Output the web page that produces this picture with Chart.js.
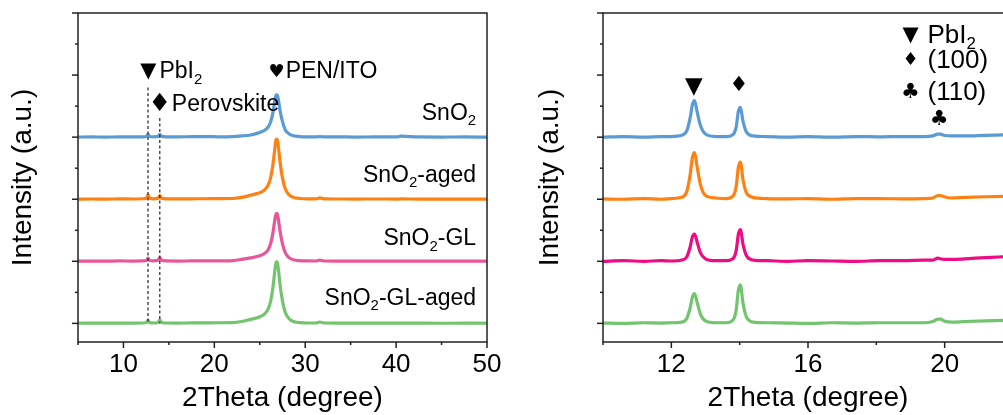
<!DOCTYPE html>
<html>
<head>
<meta charset="utf-8">
<script src="https://cdn.jsdelivr.net/npm/chart.js@4.4.1/dist/chart.umd.min.js"></script>
<style>
  html, body { margin: 0; padding: 0; background: #fff; overflow: hidden; }
  #wrap { position: relative; width: 1003px; height: 415px; overflow: hidden; }
  canvas { position: absolute; top: 0; }
  #left { left: 0; }
  #right { left: 505px; }
</style>
</head>
<body>
<div id="wrap">
  <canvas id="left" width="505" height="415"></canvas>
  <canvas id="right" width="530" height="415"></canvas>
</div>
<script>
// --- data, intensities in units of the trace spacing ---
const seriesNames = [
  [['SnO', 0], ['2', 1]],
  [['SnO', 0], ['2', 1], ['-aged', 0]],
  [['SnO', 0], ['2', 1], ['-GL', 0]],
  [['SnO', 0], ['2', 1], ['-GL-aged', 0]],
];
const offsets = [3, 2, 1, 0];
const labelY = [3.38, 2.38, 1.36, 0.4];

const leftX = [5, 6.5, 8, 9.5, 11, 12.2, 12.5, 12.7, 12.9, 13.3, 13.8, 14.0, 14.2, 14.7, 16, 17.5, 19, 20.5, 22, 23,
  24, 24.8, 25.4, 25.9, 26.2, 26.45, 26.65, 26.8, 26.92, 27.05, 27.25, 27.5, 27.8, 28.2, 28.7, 29.4, 30.3, 31.2, 31.6,
  32.1, 33.5, 35.5, 37.5, 40.2, 40.5, 42.5, 45, 47.5, 50];
const leftSnO2 = [0, 0.005, 0, 0.005, 0.003, 0.005, 0.01, 0.045, 0.01, 0.005, 0.012, 0.045, 0.012, 0.005, 0.005, 0.008,
  0.01, 0.006, 0.01, 0.02, 0.035, 0.065, 0.1, 0.16, 0.25, 0.4, 0.58, 0.68, 0.68, 0.6, 0.41, 0.25, 0.12, 0.055, 0.022,
  0.01, 0.005, 0.004, 0.01, 0.003, 0.004, 0.002, 0.003, 0.004, 0.015, 0.003, 0.002, 0.003, 0];
const leftAged = [0.002, 0.004, 0.002, 0.005, 0.004, 0.008, 0.015, 0.07, 0.015, 0.006, 0.015, 0.06, 0.015, 0.006, 0.005,
  0.007, 0.008, 0.01, 0.012, 0.03, 0.065, 0.095, 0.135, 0.22, 0.35, 0.56, 0.81, 0.96, 0.97, 0.84, 0.58, 0.34, 0.17, 0.075,
  0.03, 0.012, 0.006, 0.006, 0.022, 0.006, 0.004, 0.003, 0.004, 0.003, 0.005, 0.003, 0.002, 0.003, 0.002];
const leftGL = [0.003, 0.004, 0.002, 0.006, 0.004, 0.006, 0.012, 0.05, 0.012, 0.006, 0.015, 0.06, 0.015, 0.006, 0.004,
  0.006, 0.008, 0.007, 0.012, 0.03, 0.055, 0.08, 0.115, 0.18, 0.29, 0.46, 0.66, 0.77, 0.77, 0.67, 0.47, 0.28, 0.14,
  0.06, 0.025, 0.01, 0.006, 0.005, 0.02, 0.005, 0.004, 0.003, 0.004, 0.003, 0.004, 0.003, 0.002, 0.003, 0.002];
const leftGLAged = [0.002, 0.004, 0.003, 0.005, 0.004, 0.006, 0.012, 0.05, 0.012, 0.006, 0.015, 0.055, 0.015, 0.006,
  0.005, 0.007, 0.008, 0.01, 0.012, 0.03, 0.065, 0.095, 0.137, 0.225, 0.36, 0.58, 0.84, 0.99, 0.99, 0.87, 0.6, 0.36, 0.18,
  0.08, 0.03, 0.012, 0.006, 0.006, 0.022, 0.006, 0.004, 0.003, 0.004, 0.003, 0.004, 0.003, 0.002, 0.003, 0.002];

const rightX = [10, 10.6, 11.2, 11.7, 12.0, 12.3, 12.45, 12.55, 12.62, 12.68, 12.75, 12.85, 13.0, 13.3, 13.6, 13.8,
  13.9, 13.96, 14.02, 14.1, 14.2, 14.4, 14.8, 15.4, 16.0, 16.7, 17.4, 18.1, 18.8, 19.4, 19.65, 19.8, 19.88, 19.98, 20.2,
  20.6, 21.2, 22];
const rightSnO2 = [0, 0.01, 0, 0.01, 0.01, 0.03, 0.1, 0.31, 0.53, 0.59, 0.42, 0.19, 0.05, 0.01, 0.01, 0.04, 0.17, 0.41,
  0.48, 0.25, 0.08, 0.02, 0.01, 0, 0.01, 0, 0.01, 0.005, 0.01, 0.01, 0.02, 0.05, 0.05, 0.03, 0.02, 0.02, 0.03, 0.04];
const rightAged = [0.005, 0, 0.01, 0, 0.01, 0.03, 0.12, 0.39, 0.68, 0.75, 0.54, 0.24, 0.06, 0.02, 0.01, 0.05, 0.21, 0.51,
  0.6, 0.31, 0.1, 0.03, 0.01, 0.005, 0.01, 0, 0.01, 0.01, 0.005, 0.01, 0.02, 0.06, 0.06, 0.04, 0.02, 0.03, 0.04, 0.05];
const rightGL = [0, 0.01, 0, 0.01, 0.005, 0.02, 0.07, 0.23, 0.4, 0.44, 0.32, 0.14, 0.04, 0.01, 0.01, 0.04, 0.18, 0.43,
  0.51, 0.27, 0.09, 0.02, 0.01, 0, 0.01, 0.005, 0, 0.01, 0.01, 0.02, 0.02, 0.05, 0.04, 0.03, 0.03, 0.04, 0.06, 0.08];
const rightGLAged = [0.005, 0, 0.01, 0.005, 0.01, 0.02, 0.08, 0.25, 0.43, 0.48, 0.35, 0.15, 0.04, 0.01, 0.01, 0.05, 0.22,
  0.53, 0.62, 0.32, 0.1, 0.02, 0.01, 0.005, 0, 0.01, 0.005, 0.01, 0.01, 0.01, 0.03, 0.07, 0.07, 0.04, 0.02, 0.03, 0.04,
  0.05];

const leftXMajor = [10, 20, 30, 40, 50];
const leftXMinor = [5, 15, 25, 35, 45];
const rightXMajor = [12, 16, 20];
const rightXMinor = [10, 14, 18, 22];
const yMajor = [0, 1, 2, 3, 4, 5];
const yMinor = [0.5, 1.5, 2.5, 3.5, 4.5];

// annotations (anchored in data coordinates)
const leftNotes = [
  { sym: '▼', symSize: 21, x: 12.75, y: 4.05, gap: 11, parts: [['PbI', 0], ['2', 1]] },
  { sym: '♦', symSize: 25, x: 14.0, y: 3.52, gap: 12, parts: [['Perovskite', 0]] },
  { sym: '♥', symSize: 18, x: 26.86, y: 4.05, gap: 9, parts: [['PEN/ITO', 0]] },
];
const leftGuides = [{ x: 12.7, top: 3.8 }, { x: 14.0, top: 3.31 }];
const rightNotes = [
  { sym: '▼', symSize: 23, x: 12.66, y: 3.8 },
  { sym: '♦', symSize: 21, x: 13.98, y: 3.83 },
  { sym: '♣', symSize: 21, x: 19.84, y: 3.28 },
  { sym: '▼', symSize: 21, x: 19.0, y: 4.64, gap: 17, parts: [['PbI', 0], ['2', 1]] },
  { sym: '♦', symSize: 18, x: 19.0, y: 4.23, gap: 17, parts: [['(100)', 0]] },
  { sym: '♣', symSize: 21, x: 19.0, y: 3.72, gap: 17, parts: [['(110)', 0]] },
];

const leftColors = ['#5B9BD5', '#FF8112', '#E8579A', '#72C46E'];
const rightColors = ['#5B9BD5', '#FF8112', '#EC0C84', '#72C46E'];

const FONT = '"Liberation Sans", Arial, sans-serif';
const SYM_FONT = '"DejaVu Sans", sans-serif';

function drawParts(ctx, parts, x, y, size, align) {
  const sub = size * 0.65;
  let w = 0;
  parts.forEach(([t, s]) => { ctx.font = (s ? sub : size) + 'px ' + FONT; w += ctx.measureText(t).width; });
  let cx = align === 'right' ? x - w : x;
  ctx.textAlign = 'left';
  ctx.textBaseline = 'middle';
  parts.forEach(([t, s]) => {
    ctx.font = (s ? sub : size) + 'px ' + FONT;
    ctx.fillText(t, cx, s ? y + size * 0.33 : y);
    cx += ctx.measureText(t).width;
  });
}

function makeDecor(cfg) {
  return {
    id: 'decor',
    afterDraw(chart) {
      const { ctx, chartArea: a, scales: { x, y } } = chart;
      ctx.save();
      ctx.strokeStyle = '#222';
      ctx.fillStyle = '#000';
      ctx.lineWidth = 1.5;
      ctx.strokeRect(a.left, a.top, a.right - a.left, a.bottom - a.top);
      const tick = (list, len, horiz) => list.forEach((v) => {
        ctx.beginPath();
        if (horiz) { const p = x.getPixelForValue(v); ctx.moveTo(p, a.bottom); ctx.lineTo(p, a.bottom + len); }
        else { const p = y.getPixelForValue(v); ctx.moveTo(a.left, p); ctx.lineTo(a.left - len, p); }
        ctx.stroke();
      });
      tick(cfg.xMajor, 6, true); tick(cfg.xMinor, 3, true);
      tick(yMajor, 6, false); tick(yMinor, 3, false);

      (cfg.guides || []).forEach((g) => {
        const p = x.getPixelForValue(g.x);
        ctx.save();
        ctx.lineWidth = 1.2;
        ctx.setLineDash([3, 2.5]);
        ctx.beginPath();
        ctx.moveTo(p, y.getPixelForValue(g.top));
        ctx.lineTo(p, y.getPixelForValue(0));
        ctx.stroke();
        ctx.restore();
      });

      cfg.notes.forEach((n) => {
        const px = x.getPixelForValue(n.x), py = y.getPixelForValue(n.y);
        ctx.font = n.symSize + 'px ' + SYM_FONT;
        ctx.textAlign = 'center';
        ctx.textBaseline = 'middle';
        ctx.fillText(n.sym, px, py);
        if (n.parts) drawParts(ctx, n.parts, px + n.gap, py, cfg.noteSize, 'left');
      });

      (cfg.labels || []).forEach((parts, i) => {
        drawParts(ctx, parts, x.getPixelForValue(cfg.labelX), y.getPixelForValue(labelY[i]), 23, 'right');
      });
      ctx.restore();
    },
  };
}

function buildChart(id, xs, seriesList, colors, xr, xTicks, yAxisWidth, yTitlePad, padRight, decorCfg) {
  return new Chart(document.getElementById(id), {
    type: 'line',
    data: {
      datasets: seriesList.map((vals, i) => ({
        data: xs.map((xv, j) => ({ x: xv, y: vals[j] + offsets[i] })),
        borderColor: colors[i],
        borderWidth: 3.2,
        pointRadius: 0,
        cubicInterpolationMode: 'monotone',
        borderJoinStyle: 'round',
        fill: false,
      })),
    },
    options: {
      responsive: false,
      animation: false,
      events: [],
      layout: { padding: { left: 0, right: padRight, top: 13, bottom: 0 } },
      plugins: { legend: { display: false }, tooltip: { enabled: false } },
      scales: {
        x: {
          type: 'linear', min: xr[0], max: xr[1],
          ticks: {
            stepSize: xTicks.step, autoSkip: false, maxRotation: 0, padding: 7, color: '#000',
            font: { family: FONT, size: 26 },
            callback: (v) => (xTicks.major.includes(v) ? String(v) : ''),
          },
          grid: { display: false, drawTicks: false },
          border: { display: false },
          title: { display: true, text: '2Theta (degree)', color: '#000', font: { family: FONT, size: 28 }, padding: { top: 0, bottom: 0 } },
          afterFit: (s) => { s.height = 73; s.paddingLeft = 0; s.paddingRight = 0; },
        },
        y: {
          type: 'linear', min: -0.3, max: 5,
          ticks: { display: false },
          grid: { display: false, drawTicks: false },
          border: { display: false },
          title: { display: true, text: 'Intensity (a.u.)', color: '#000', font: { family: FONT, size: 28 }, padding: { top: yTitlePad, bottom: 0 } },
          afterFit: (s) => { s.width = yAxisWidth; },
        },
      },
    },
    plugins: [makeDecor(decorCfg)],
  });
}

buildChart('left', leftX, [leftSnO2, leftAged, leftGL, leftGLAged], leftColors, [5, 50],
  { step: 5, major: leftXMajor }, 78, 6, 18,
  { xMajor: leftXMajor, xMinor: leftXMinor, notes: leftNotes, noteSize: 23, guides: leftGuides, labels: seriesNames, labelX: 48.8 });

buildChart('right', rightX, [rightSnO2, rightAged, rightGL, rightGLAged], rightColors, [10, 22],
  { step: 2, major: rightXMajor }, 98, 28, 22,
  { xMajor: rightXMajor, xMinor: rightXMinor, notes: rightNotes, noteSize: 26 });
</script>
</body>
</html>
